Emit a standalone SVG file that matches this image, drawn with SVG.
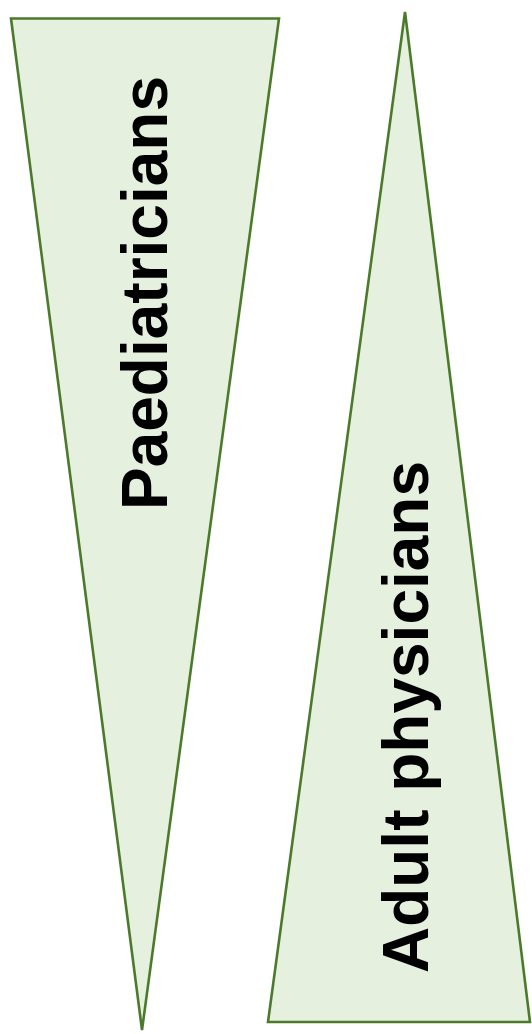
<svg xmlns="http://www.w3.org/2000/svg" width="532" height="1034" viewBox="0 0 532 1034">
  <style>
    .wedge { fill: #e6f0de; stroke: #4b7a2b; stroke-width: 2.6; stroke-linejoin: miter; }
    .label { font-family: "Liberation Sans", Arial, sans-serif; font-weight: bold; font-size: 64px; fill: #000; text-anchor: middle; }
  </style>
  <g id="paediatricians">
    <polygon class="wedge" points="11,18.5 279,18.5 142,1030"/>
    <text class="label" transform="translate(167,293) rotate(-90)">Paediatricians</text>
  </g>
  <g id="adult-physicians">
    <polygon class="wedge" points="405,12 530,1022 268,1022"/>
    <text class="label" transform="translate(428,717) rotate(-90)">Adult physicians</text>
  </g>
  <g id="connectors"/>
</svg>
